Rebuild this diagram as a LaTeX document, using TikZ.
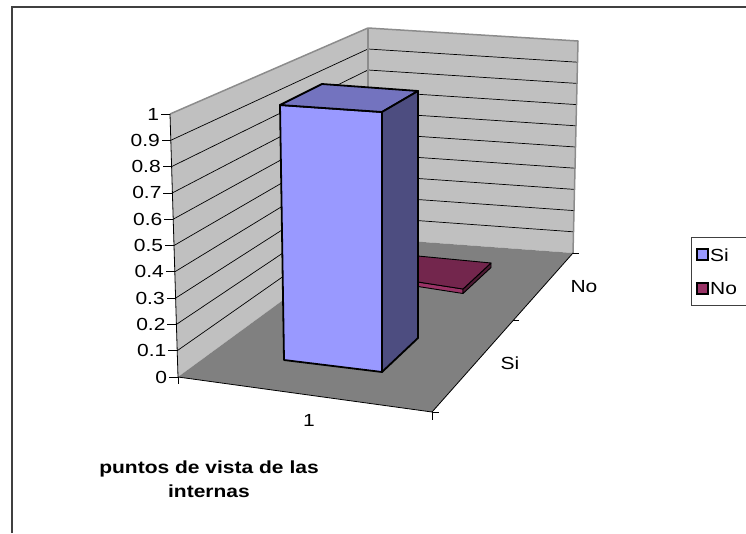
\documentclass[tikz,border=0pt]{standalone}
\usepackage{fontspec}
\setmainfont{Liberation Sans}[FakeStretch=1.2]
\usetikzlibrary{calc}
\definecolor{wallc}{HTML}{C0C0C0}
\definecolor{floorc}{HTML}{808080}
\definecolor{edgec}{HTML}{8C8C8C}
\definecolor{sifront}{HTML}{9999FF}
\definecolor{sitop}{HTML}{7373BF}
\definecolor{siside}{HTML}{4D4D80}
\definecolor{nofront}{HTML}{993366}
\definecolor{notop}{HTML}{73264D}
\definecolor{noside}{HTML}{4D1A33}
\definecolor{framec}{HTML}{404040}
\tikzset{
  wallface/.style={fill=wallc},
  floorface/.style={fill=floorc},
  walledge/.style={draw=edgec, line width=1.5pt, line join=round},
  gridline/.style={draw=black, line width=0.7pt},
  axisline/.style={draw=black, line width=0.8pt},
  barface/.style={draw=black, line width=1.8pt, line join=round},
  thinbar/.style={draw=black, line width=0.9pt, line join=round},
  ticklabel/.style={anchor=east, inner sep=1.5pt},
  catlabel/.style={inner sep=0pt},
  legsq/.style={draw=black, line width=1.2pt},
  legtext/.style={anchor=west, inner sep=1pt}
}
\begin{document}
\begin{tikzpicture}[x=1pt, y=-1pt, font=\fontsize{17.5}{24}\selectfont]
\useasboundingbox (0,0) rectangle (746,533);
% outer frame (partly outside the picture)
\draw[framec, line width=1.8pt] (12,533) -- (12,7) -- (746,7);

% geometry
\coordinate (A1) at (170,114);
\coordinate (A0) at (178,377);
\coordinate (B1) at (368,28);
\coordinate (B0) at (368,238);
\coordinate (C1) at (578,41);
\coordinate (C0) at (573,253);
\coordinate (D) at (432,412);

% walls
\fill[wallface] (A1) -- (B1) -- (B0) -- (A0) -- cycle;
\fill[wallface] (B1) -- (C1) -- (C0) -- (B0) -- cycle;
\foreach \v in {1,...,9}{
  \draw[gridline] ($(A0)!\v/10!(A1)$) -- ($(B0)!\v/10!(B1)$) -- ($(C0)!\v/10!(C1)$);
}
% floor
\fill[floorface] (A0) -- (B0) -- (C0) -- (D) -- cycle;
% wall edges
\draw[walledge] (A1) -- (B1) -- (C1) -- (C0);
\draw[walledge] (B1) -- (B0);

% "No" bar (flat)
\coordinate (N1) at (400,254.3);
\coordinate (N2) at (491,263);
\coordinate (N3) at (463,289);
\coordinate (N4) at (400,279.2);
\coordinate (N3b) at (463,293.5);
\coordinate (N4b) at (400,283.7);
\coordinate (N2b) at (491,267.5);
\filldraw[thinbar, fill=nofront] (N4) -- (N3) -- (N3b) -- (N4b) -- cycle;
\filldraw[thinbar, fill=noside] (N3) -- (N2) -- (N2b) -- (N3b) -- cycle;
\filldraw[thinbar, fill=notop] (N1) -- (N2) -- (N3) -- (N4) -- cycle;

% "Si" bar
\coordinate (F1) at (280,105);
\coordinate (F2) at (382,112);
\coordinate (F3) at (382,372);
\coordinate (F4) at (284,360);
\coordinate (T1) at (322,84);
\coordinate (T2) at (418,91);
\coordinate (S3) at (418,338);
\filldraw[barface, fill=sifront] (F1) -- (F2) -- (F3) -- (F4) -- cycle;
\filldraw[barface, fill=sitop] (F1) -- (T1) -- (T2) -- (F2) -- cycle;
\filldraw[barface, fill=siside] (F2) -- (T2) -- (S3) -- (F3) -- cycle;

% value axis
\draw[axisline] (A1) -- (A0);
\foreach \v/\t in {0/0,1/0.1,2/0.2,3/0.3,4/0.4,5/0.5,6/0.6,7/0.7,8/0.8,9/0.9,10/1}{
  \coordinate (yt\v) at ($(A0)!\v/10!(A1)$);
  \draw[axisline] (yt\v) -- ++(-9,0) node[ticklabel] (yl\v) {\t};
}
% category axis
\draw[axisline] (A0) -- (D);
\draw[axisline] (A0) -- ++(0,7);
\draw[axisline] (D) -- ++(0,8);
% depth axis
\coordinate (M) at ($(D)!0.575!(C0)$);
\draw[axisline] (D) -- (C0);
\draw[axisline] (D) -- ++(7,0);
\draw[axisline] (M) -- ++(6,0);
\draw[axisline] (C0) -- ++(6,0);

% labels
\node[catlabel] (lab1) at (309,420) {1};
\node[catlabel] (labsi) at (510,363) {Si};
\node[catlabel] (labno) at (584,287) {No};
\node[align=center, inner sep=0pt, font=\fontsize{17.5}{24}\selectfont\bfseries] (title) at (209,479) {puntos de vista de las\\internas};

% legend
\draw[black!75, line width=0.9pt] (746,237) -- (691,237) -- (691,305) -- (746,305);
\draw[legsq, fill=sifront] (697,249) rectangle (708,260);
\node[legtext] (legsi) at (709,255) {Si};
\draw[legsq, fill=nofront] (697,283) rectangle (708,294);
\node[legtext] (legno) at (709,289) {No};
\end{tikzpicture}
\end{document}
